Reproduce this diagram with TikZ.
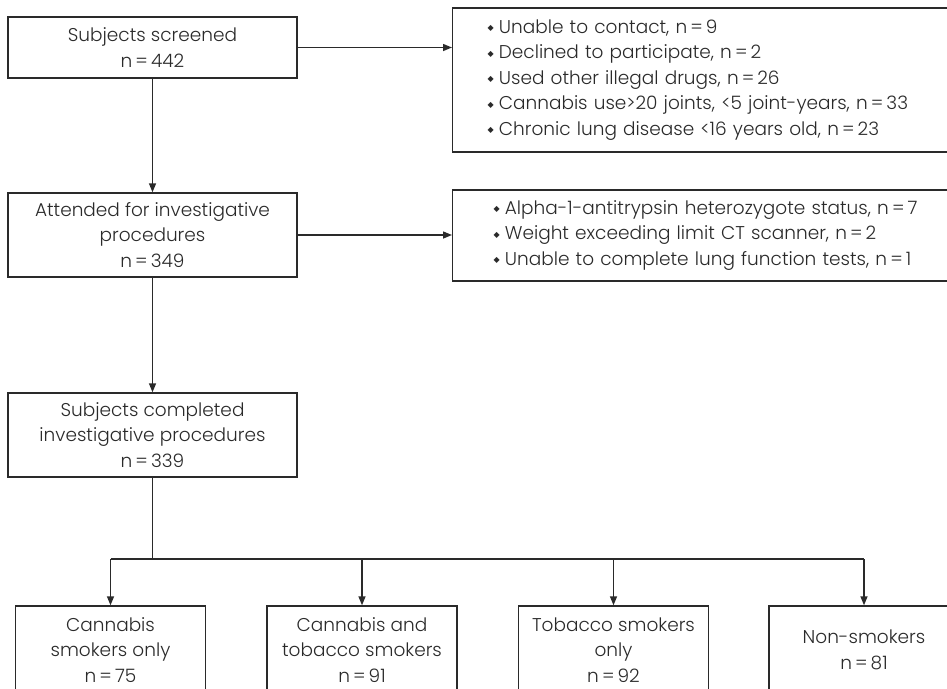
\documentclass[tikz,border=0pt]{standalone}
\usepackage{fontspec}
\setmainfont{Poppins Light}
\newfontfamily\dejavu{DejaVu Sans}
\usetikzlibrary{arrows.meta,positioning,calc}
\definecolor{ink}{HTML}{2A2A2A}
\newcommand{\dmd}{\raisebox{2.5pt}{\dejavu\fontsize{8}{8}\selectfont ◆}\hspace{5pt}}
\begin{document}
\begin{tikzpicture}[x=1pt,y=-1pt,
  every node/.style={text=ink,font=\fontsize{18.5}{25.5}\selectfont},
  mainbox/.style={draw=ink,line width=1.4pt,minimum width=289pt,align=center,inner sep=0pt},
  listbox/.style={draw=ink,line width=1.4pt,align=left,text width=470pt,inner ysep=0pt,anchor=west},
  endbox/.style={draw=ink,line width=1.4pt,minimum width=190pt,minimum height=88pt,align=center,inner sep=0pt},
  conn/.style={draw=ink,line width=1.4pt},
  arr/.style={conn,-{Triangle[length=9pt,width=7pt]}}]
\useasboundingbox (0,0) rectangle (947,688);
\node[mainbox,minimum height=61pt] (scr) at (152.5,47.5) {Subjects screened\\n\,=\,442};
\node[mainbox,minimum height=84pt] (att) at (152.5,235) {Attended for investigative\\procedures\\n\,=\,349};
\node[mainbox,minimum height=84pt] (cmp) at (152.5,435) {Subjects completed\\investigative procedures\\n\,=\,339};
\node[listbox,minimum height=144pt,inner xsep=35pt] (exc1) at (452,80) {\dmd Unable to contact, n\,=\,9\\
\dmd Declined to participate, n\,=\,2\\
\dmd Used other illegal drugs, n\,=\,26\\
\dmd Cannabis use>20 joints, <5 joint-years, n\,=\,33\\
\dmd Chronic lung disease <16 years old, n\,=\,23};
\node[listbox,minimum height=91pt,inner xsep=41pt] (exc2) at (452,235.5) {\dmd Alpha-1-antitrypsin heterozygote status, n\,=\,7\\
\dmd Weight exceeding limit CT scanner, n\,=\,2\\
\dmd Unable to complete lung function tests, n\,=\,1};
\node[endbox] (g1) at (110.5,650) {Cannabis\\smokers only\\n\,=\,75};
\node[endbox] (g2) at (362,650) {Cannabis and\\tobacco smokers\\n\,=\,91};
\node[endbox] (g3) at (613.5,650) {Tobacco smokers\\only\\n\,=\,92};
\node[endbox] (g4) at (864,650) {Non-smokers\\n\,=\,81};
\coordinate (split) at (152.5,559);
\draw[arr] (scr.east) -- (scr.east -| exc1.west);
\draw[arr] (att.east) -- (att.east -| exc2.west);
\draw[arr] (scr.south) -- (att.north);
\draw[arr] (att.south) -- (cmp.north);
\draw[conn] (cmp.south) -- (split);
\draw[conn] (split -| g1.north) -- (split -| g4.north);
\draw[arr] (split -| g1.north) -- (g1.north);
\draw[arr] (split -| g2.north) -- (g2.north);
\draw[arr] (split -| g3.north) -- (g3.north);
\draw[arr] (split -| g4.north) -- (g4.north);
\end{tikzpicture}
\end{document}
